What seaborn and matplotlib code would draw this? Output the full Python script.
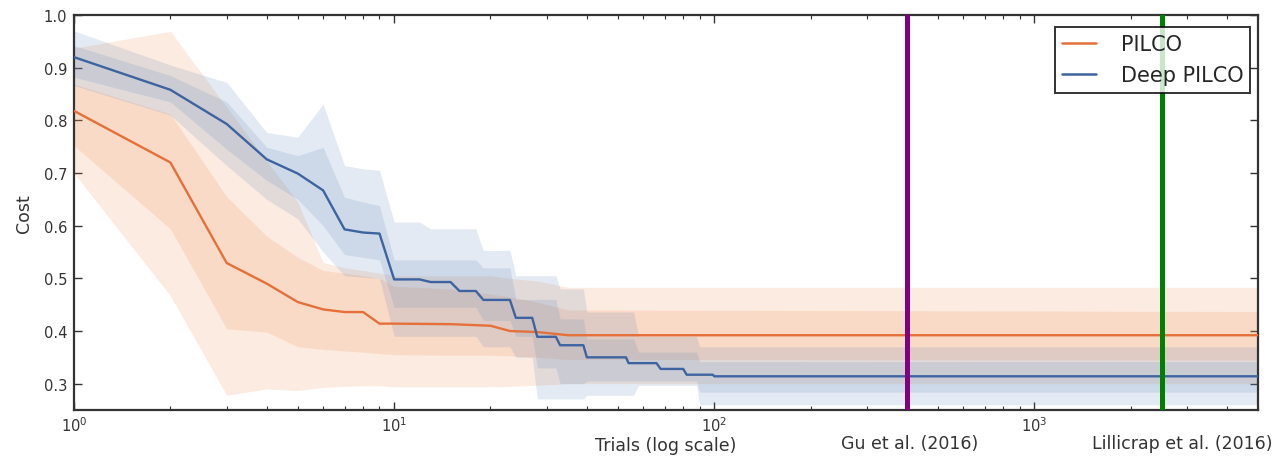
import numpy as np
import pandas as pd
import matplotlib
matplotlib.use("Agg")
import matplotlib.pyplot as plt
import seaborn as sns
from matplotlib.lines import Line2D

# ---------------- data ----------------
pilco_trials = [1, 2, 3, 4, 5, 6, 7, 8, 9, 10, 15, 20, 23, 28, 35, 5000]
pilco_mean   = [0.818, 0.720, 0.529, 0.490, 0.455, 0.441, 0.436, 0.436, 0.414, 0.414, 0.413, 0.410, 0.400, 0.398, 0.392, 0.392]
pilco_in_lo  = [0.752, 0.594, 0.404, 0.398, 0.370, 0.365, 0.362, 0.360, 0.357, 0.355, 0.354, 0.354, 0.353, 0.350, 0.346, 0.345]
pilco_in_hi  = [0.869, 0.812, 0.655, 0.580, 0.540, 0.515, 0.510, 0.505, 0.500, 0.485, 0.480, 0.470, 0.465, 0.455, 0.440, 0.437]
pilco_out_lo = [0.700, 0.467, 0.278, 0.290, 0.287, 0.293, 0.295, 0.296, 0.296, 0.294, 0.294, 0.294, 0.295, 0.297, 0.300, 0.300]
pilco_out_hi = [0.937, 0.969, 0.825, 0.723, 0.645, 0.530, 0.520, 0.515, 0.510, 0.505, 0.505, 0.505, 0.500, 0.495, 0.483, 0.483]

deep_trials = [1, 2, 3, 4, 5, 6, 7, 8, 9, 10, 12, 13, 15, 16, 18, 19, 23, 24, 27, 28, 32, 33, 39,
               40, 53, 54, 56, 58, 66, 68, 80, 82, 88, 90, 99, 100, 5000]
deep_mean   = [0.920, 0.858, 0.793, 0.726, 0.699, 0.667, 0.593, 0.587, 0.585, 0.498, 0.498, 0.493, 0.493,
               0.476, 0.476, 0.459, 0.459, 0.425, 0.425, 0.389, 0.389, 0.373, 0.373,
               0.350, 0.350, 0.339, 0.339, 0.339, 0.339, 0.328, 0.328, 0.317, 0.317, 0.317, 0.317, 0.314, 0.314]
deep_in_lo  = [0.882, 0.835, 0.745, 0.686, 0.650, 0.600, 0.545, 0.540, 0.535, 0.445, 0.445, 0.445, 0.445,
               0.445, 0.445, 0.420, 0.420, 0.390, 0.390, 0.330, 0.330, 0.300, 0.300,
               0.305, 0.305, 0.305, 0.305, 0.305, 0.305, 0.305, 0.305, 0.305, 0.305, 0.284, 0.284, 0.284, 0.284]
deep_in_hi  = [0.942, 0.885, 0.835, 0.749, 0.733, 0.749, 0.654, 0.645, 0.638, 0.535, 0.535, 0.535, 0.535,
               0.535, 0.535, 0.520, 0.520, 0.460, 0.460, 0.460, 0.460, 0.423, 0.423,
               0.385, 0.385, 0.385, 0.385, 0.360, 0.360, 0.360, 0.360, 0.360, 0.360, 0.342, 0.342, 0.342, 0.342]
deep_out_lo = [0.866, 0.810, 0.714, 0.650, 0.613, 0.550, 0.505, 0.502, 0.500, 0.390, 0.390, 0.390, 0.390,
               0.390, 0.390, 0.370, 0.370, 0.350, 0.350, 0.271, 0.271, 0.271, 0.271,
               0.278, 0.278, 0.278, 0.278, 0.297, 0.297, 0.297, 0.297, 0.297, 0.297, 0.260, 0.260, 0.260, 0.260]
deep_out_hi = [0.970, 0.905, 0.872, 0.777, 0.768, 0.831, 0.714, 0.708, 0.705, 0.607, 0.607, 0.594, 0.594,
               0.594, 0.594, 0.553, 0.553, 0.505, 0.505, 0.505, 0.505, 0.480, 0.480,
               0.436, 0.436, 0.436, 0.436, 0.390, 0.390, 0.390, 0.390, 0.390, 0.390, 0.370, 0.370, 0.370, 0.370]

series_names = ["PILCO", "Deep PILCO"]
ref_trials = [400, 2500]
ref_labels = ["Gu et al. (2016)", "Lillicrap et al. (2016)"]
y_ticks = [0.3, 0.4, 0.5, 0.6, 0.7, 0.8, 0.9, 1.0]

# ---------------- style ----------------
sns.set_style("ticks")
plt.rcParams["font.family"] = ["DejaVu Sans"]
plt.rcParams["mathtext.default"] = "regular"

orange = "#E5703A"
blue = "#3D64A0"
band_orange = "#F08A4B"
band_blue = "#5A82B8"

fig = plt.figure(figsize=(12.76, 4.64), dpi=100)
ax = fig.add_axes([0.058, 0.1142, 0.928, 0.8513])
ax.set_xscale("log")

# bands
ax.fill_between(pilco_trials, pilco_out_lo, pilco_out_hi, color=band_orange, alpha=0.17, linewidth=0, zorder=1)
ax.fill_between(pilco_trials, pilco_in_lo, pilco_in_hi, color=band_orange, alpha=0.17, linewidth=0, zorder=1)
ax.fill_between(deep_trials, deep_out_lo, deep_out_hi, color=band_blue, alpha=0.16, linewidth=0, zorder=2)
ax.fill_between(deep_trials, deep_in_lo, deep_in_hi, color=band_blue, alpha=0.16, linewidth=0, zorder=2)

df = pd.concat([
    pd.DataFrame({"Trials": pilco_trials, "Cost": pilco_mean, "Method": series_names[0]}),
    pd.DataFrame({"Trials": deep_trials, "Cost": deep_mean, "Method": series_names[1]}),
], ignore_index=True)
sns.lineplot(data=df, x="Trials", y="Cost", hue="Method", palette=[orange, blue],
             estimator=None, sort=True, linewidth=1.7, ax=ax, legend=False, zorder=4)

for xv, col in zip(ref_trials, ["#800080", "#008000"]):
    ax.axvline(xv, color=col, linewidth=3.6, zorder=5)

ax.set_xlim(1, 5000)
ax.set_ylim(0.25, 1.0)
ax.set_yticks(y_ticks)
ax.set_yticklabels([f"{v:.1f}" for v in y_ticks])

ax.tick_params(which="both", direction="in", top=True, right=True, colors="#333333",
               labelcolor="#333333")
ax.tick_params(which="major", length=6, width=1, labelsize=10.6, pad=5)
ax.tick_params(axis="x", which="major", pad=3.5)
ax.tick_params(which="minor", length=3, width=0.8)
for s in ax.spines.values():
    s.set_color("#333333")
    s.set_linewidth(1.6)

ax.set_xlabel("Trials (log scale)", fontsize=12.5, color="#333333")
ax.xaxis.set_label_coords(0.5, -0.066)
ax.set_ylabel("Cost", fontsize=12.5, color="#333333")
ax.yaxis.set_label_coords(-0.035, 0.5)

for xv, lab, dx in zip(ref_trials, ref_labels, [2, 15]):
    ax.annotate(lab, xy=(xv, 0), xycoords=ax.get_xaxis_transform(),
                xytext=(dx, -17), textcoords="offset points",
                ha="center", va="top", fontsize=12.5, color="#333333", annotation_clip=False)

handles = [Line2D([0], [0], color=orange, lw=1.8), Line2D([0], [0], color=blue, lw=1.8)]
leg = ax.legend(handles, series_names, loc="upper right", bbox_to_anchor=(0.9935, 0.97),
                fontsize=15, frameon=True, fancybox=False, handlelength=1.6,
                handletextpad=1.2, labelspacing=0.54, borderpad=0.35, borderaxespad=0)
leg.get_frame().set_edgecolor("black")
leg.get_frame().set_linewidth(1.4)
leg.set_zorder(10)

fig.savefig("out.png", dpi=100)
